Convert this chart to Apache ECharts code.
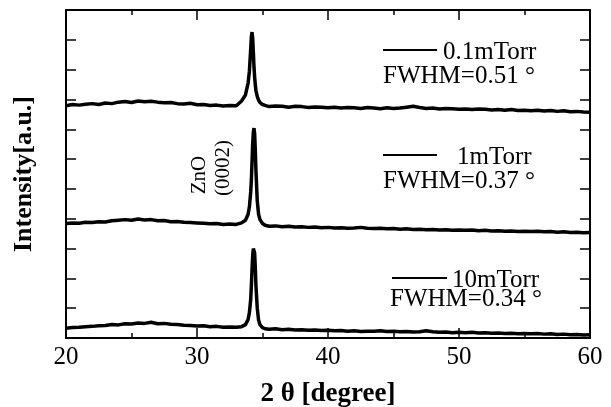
<!DOCTYPE html>
<html>
<head>
<meta charset="utf-8">
<script src="https://cdn.jsdelivr.net/npm/echarts@6/dist/echarts.min.js"></script>
<style>html,body{margin:0;padding:0;background:#fff;}#c{width:611px;height:407px;}</style>
</head>
<body>
<div id="c"></div>
<script>
// 2θ grid (degrees)
const twoTheta = [
  20,20.5,21,21.5,22,22.5,23,23.5,24,24.5,25,25.5,26,26.5,27,27.5,28,28.5,29,29.5,30,30.5,31,31.5,32,32.5,33,
  33.4,33.7,33.9,34.0,34.1,34.15,34.2,34.25,34.3,34.35,34.4,34.45,34.5,34.6,34.7,34.8,35.0,35.2,
  35.5,36,36.5,37,37.5,38,38.5,39,39.5,40,
  40.5,41,41.5,42,42.5,43,43.5,44,44.5,45,
  45.5,46,46.5,47,47.5,48,48.5,49,49.5,50,
  50.5,51,51.5,52,52.5,53,53.5,54,54.5,55,
  55.5,56,56.5,57,57.5,58,58.5,59,59.5,60
];
// 0.1 mTorr (offset trace, top)
const p01mTorr = [
  7.79,7.83,7.81,7.84,7.86,7.83,7.88,7.86,7.91,7.93,7.90,7.95,7.92,7.94,7.91,7.89,7.90,7.86,7.85,7.87,7.82,7.83,7.80,7.81,7.78,7.80,7.79,
  7.95,8.15,8.55,8.95,9.70,10.10,10.26,10.05,9.60,9.10,8.75,8.50,8.30,8.10,7.98,7.90,7.83,7.80,
  7.76,7.78,7.77,7.74,7.77,7.76,7.73,7.75,7.74,7.72,
  7.74,7.71,7.73,7.72,7.70,7.73,7.71,7.69,7.72,7.70,
  7.71,7.74,7.77,7.73,7.70,7.71,7.68,7.70,7.69,7.67,
  7.68,7.66,7.68,7.67,7.65,7.66,7.64,7.66,7.63,7.64,
  7.62,7.64,7.61,7.63,7.60,7.62,7.59,7.60,7.58,7.57
];
// 1 mTorr (offset trace, middle)
const p1mTorr = [
  3.84,3.86,3.85,3.88,3.87,3.90,3.89,3.93,3.95,3.97,3.95,3.99,3.96,3.97,3.93,3.94,3.90,3.91,3.88,3.87,3.86,3.85,3.83,3.84,3.81,3.82,3.81,
  3.86,3.95,4.15,4.40,4.90,5.30,5.90,6.50,6.90,7.04,6.85,6.30,5.60,4.60,4.15,3.98,3.84,3.78,
  3.75,3.76,3.73,3.75,3.72,3.73,3.71,3.72,3.70,3.71,
  3.69,3.70,3.68,3.69,3.71,3.68,3.67,3.68,3.66,3.67,
  3.65,3.66,3.64,3.65,3.63,3.64,3.62,3.63,3.61,3.62,
  3.61,3.62,3.60,3.61,3.59,3.60,3.58,3.59,3.57,3.58,
  3.57,3.58,3.56,3.57,3.55,3.56,3.54,3.55,3.53,3.54
];
// 10 mTorr (bottom)
const p10mTorr = [
  0.33,0.35,0.36,0.38,0.39,0.41,0.42,0.45,0.44,0.48,0.47,0.50,0.49,0.53,0.48,0.49,0.46,0.45,0.43,0.42,0.40,0.41,0.38,0.39,0.36,0.37,0.36,
  0.38,0.45,0.62,0.85,1.30,1.75,2.30,2.75,3.00,3.05,2.85,2.35,1.75,1.00,0.60,0.45,0.35,0.31,
  0.29,0.31,0.28,0.29,0.27,0.28,0.26,0.27,0.25,0.26,
  0.24,0.25,0.23,0.24,0.22,0.23,0.23,0.24,0.22,0.23,
  0.21,0.22,0.20,0.21,0.24,0.21,0.19,0.20,0.18,0.19,
  0.18,0.19,0.17,0.18,0.16,0.17,0.15,0.16,0.14,0.15,
  0.14,0.15,0.13,0.14,0.12,0.13,0.11,0.12,0.10,0.11
];
const seriesNames = ['0.1mTorr','1mTorr','10mTorr'];
const fwhmLabels = ['FWHM=0.51','FWHM=0.37','FWHM=0.34'];
const xTicks = [20,30,40,50,60];
const peakLabel = ['ZnO','(0002)'];

const pairs = arr => twoTheta.map((x,i)=>[x,arr[i]]);
const serif = '"Liberation Serif","DejaVu Serif",serif';
const chart = echarts.init(document.getElementById('c'));

const axisBase = {
  axisLine:{show:true,onZero:false,lineStyle:{color:'#000',width:2}},
  axisTick:{show:true,inside:true,length:10,lineStyle:{color:'#000',width:1.5}},
  splitLine:{show:false}
};
function legendGraphics(lineX1,lineX2,lineY,nameX,nameY,name,fx,fy,fwhm){
  return [
    {type:'line',shape:{x1:lineX1,y1:lineY,x2:lineX2,y2:lineY},style:{stroke:'#000',lineWidth:2}},
    {type:'text',x:nameX,y:nameY,style:{text:name,font:'25px '+serif,fill:'#000',textVerticalAlign:'middle'}},
    {type:'text',x:fx,y:fy,style:{text:fwhm+' \u00B0',font:'25px '+serif,fill:'#000',textVerticalAlign:'middle'}}
  ];
}
chart.setOption({
  animation:false,
  backgroundColor:'#fff',
  grid:{left:66,right:21,top:10,bottom:69,containLabel:false,outerBoundsMode:'none'},
  xAxis:[
    Object.assign({type:'value',min:xTicks[0],max:xTicks[xTicks.length-1],interval:10,position:'bottom',
      name:'2 \u03B8 [degree]',nameLocation:'middle',nameGap:43,
      nameTextStyle:{fontFamily:serif,fontWeight:'bold',fontSize:27,color:'#000'},
      axisLabel:{fontFamily:serif,fontSize:25,color:'#000',margin:7},
      minorTick:{show:true,splitNumber:2,length:5,lineStyle:{color:'#000',width:1.5}}},axisBase),
    Object.assign({type:'value',min:20,max:60,interval:10,position:'top',axisLabel:{show:false},
      minorTick:{show:true,splitNumber:2,length:5,lineStyle:{color:'#000',width:1.5}}},axisBase)
  ],
  yAxis:[
    Object.assign({type:'value',min:0,max:11,interval:1,position:'left',axisLabel:{show:false},
      name:'Intensity[a.u.]',nameLocation:'middle',nameGap:29,
      nameTextStyle:{fontFamily:serif,fontWeight:'bold',fontSize:26,color:'#000'}},axisBase),
    Object.assign({type:'value',min:0,max:11,interval:1,position:'right',axisLabel:{show:false}},axisBase)
  ],
  series:[p01mTorr,p1mTorr,p10mTorr].map((d,i)=>({
    name:seriesNames[i],type:'line',data:pairs(d),showSymbol:false,symbol:'none',
    lineStyle:{color:'#000',width:3.5},z:3
  })),
  graphic:[
    ...legendGraphics(383,437,50,443,52,seriesNames[0],383,76,fwhmLabels[0]),
    ...legendGraphics(383,437,155,457,157,seriesNames[1],383,181,fwhmLabels[1]),
    ...legendGraphics(392,447,278,452,280,seriesNames[2],390,299,fwhmLabels[2]),
    {type:'text',x:199,y:175,rotation:Math.PI/2,style:{text:peakLabel[0],font:'21px '+serif,fill:'#000',textAlign:'center',textVerticalAlign:'middle'}},
    {type:'text',x:223,y:168,rotation:Math.PI/2,style:{text:peakLabel[1],font:'21px '+serif,fill:'#000',textAlign:'center',textVerticalAlign:'middle'}}
  ]
});
</script>
</body>
</html>
